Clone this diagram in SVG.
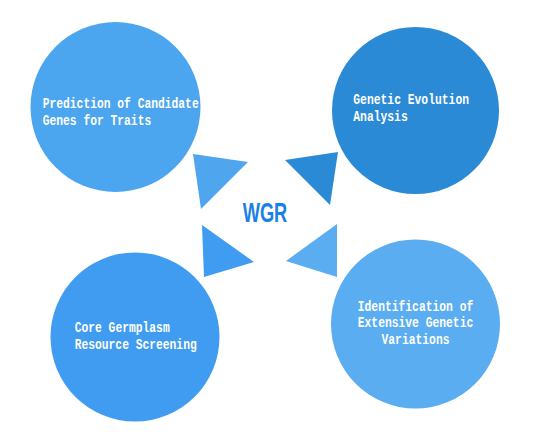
<svg xmlns="http://www.w3.org/2000/svg" width="533" height="444" viewBox="0 0 533 444">
<style>
.lbl{font-family:"Liberation Mono","DejaVu Sans Mono",monospace;font-size:14px;font-weight:bold;fill:#ffffff}
.wgr{font-family:"Liberation Sans",Arial,sans-serif;font-size:28px;font-weight:bold;fill:#1a7fe6}
</style>
<rect width="533" height="444" fill="#ffffff"/>
<g id="connectors">
<polygon points="193,154 248,162 201,209" fill="#4fa6ef"/>
<polygon points="285,160 338,152 330,205" fill="#2b8ad6"/>
<polygon points="202,225 254,262 204,277" fill="#3f9cf0"/>
<polygon points="286,261 337,224 337,277" fill="#5aadf0"/>
</g>
<g id="center">
<text class="wgr" x="242.7" y="221.7" textLength="44.6" lengthAdjust="spacingAndGlyphs">WGR</text>
</g>
<g id="node-prediction">
<circle cx="115.5" cy="107" r="85" fill="#4ca5ef"/>
<text class="lbl" x="42.7" y="108" textLength="156" lengthAdjust="spacingAndGlyphs">Prediction of Candidate</text>
<text class="lbl" x="42.7" y="125" textLength="108.5" lengthAdjust="spacingAndGlyphs">Genes for Traits</text>
</g>
<g id="node-evolution">
<circle cx="415.5" cy="110.5" r="83.5" fill="#2b8ad5"/>
<text class="lbl" x="353.3" y="104" textLength="115.7" lengthAdjust="spacingAndGlyphs">Genetic Evolution</text>
<text class="lbl" x="353.3" y="121" textLength="54.4" lengthAdjust="spacingAndGlyphs">Analysis</text>
</g>
<g id="node-core">
<circle cx="135" cy="337" r="84.5" fill="#3f9cf0"/>
<text class="lbl" x="74.7" y="332.3" textLength="95" lengthAdjust="spacingAndGlyphs">Core Germplasm</text>
<text class="lbl" x="74.7" y="349.3" textLength="122" lengthAdjust="spacingAndGlyphs">Resource Screening</text>
</g>
<g id="node-variations">
<circle cx="415.5" cy="324" r="84.5" fill="#5aadf0"/>
<text class="lbl" x="415.5" y="310.7" text-anchor="middle" textLength="115.5" lengthAdjust="spacingAndGlyphs">Identification of</text>
<text class="lbl" x="415.5" y="327.3" text-anchor="middle" textLength="115.5" lengthAdjust="spacingAndGlyphs">Extensive Genetic</text>
<text class="lbl" x="415.5" y="344" text-anchor="middle" textLength="68" lengthAdjust="spacingAndGlyphs">Variations</text>
</g>
</svg>
